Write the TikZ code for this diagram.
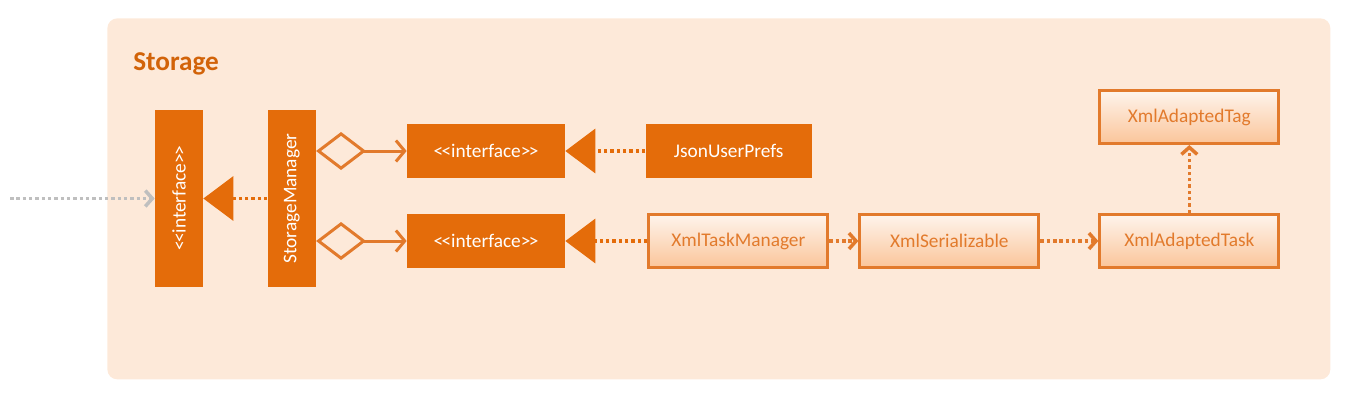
\documentclass[tikz,border=0pt]{standalone}
\usepackage{fontspec}
\setmainfont{Carlito}
\usetikzlibrary{positioning, arrows.meta, shapes}
\definecolor{umlOrange}{HTML}{E46C0A}
\definecolor{umlPeach}{HTML}{FDE9D9}
\definecolor{umlLine}{HTML}{E27A2C}
\definecolor{umlLight}{HTML}{FBC59A}
\colorlet{titleColor}{umlOrange!92!black}
\colorlet{extColor}{black!25}
\newcommand{\stereoName}[1]{<\kern-0.9pt<#1>\kern-0.9pt>}
\tikzstyle{pkg}=[rectangle, rounded corners=0.2cm, fill=umlPeach, inner sep=0]
\tikzstyle{pkgTitle}=[font=\fontsize{15.5}{18}\selectfont\bfseries, text=titleColor, inner sep=0]
\tikzstyle{cSolid}=[rectangle, fill=umlOrange, text=white, inner sep=0,
font=\fontsize{11}{13}\selectfont]
\tikzstyle{cSolidV}=[cSolid, minimum width=0.96cm, minimum height=3.54cm]
\tikzstyle{cSolidH}=[cSolid, minimum width=3.16cm, minimum height=1.08cm]
\tikzstyle{cClass}=[rectangle, draw=umlLine, line width=1.7pt, top color=umlPeach!50!white,
bottom color=umlLight, text=umlLine, minimum width=3.58cm, minimum height=1.06cm,
inner sep=0, font=\fontsize{11}{13}\selectfont]
\tikzstyle{depend}=[-{Straight Barb[length=4pt, width=9pt]}, line width=2pt,
dash pattern=on 2pt off 1.6pt, draw=umlLine]
\tikzstyle{realize}=[-{Triangle[length=0.6cm, width=0.88cm]}, line width=2pt,
dash pattern=on 2pt off 1.6pt, draw=umlOrange]
\tikzstyle{aggregate}=[{Diamond[open, length=1cm, width=0.76cm]}-{Straight Barb[length=5pt, width=12pt]},
line width=1.7pt, draw=umlLine]

\begin{document}
\begin{tikzpicture}[node distance=5mm]
    \useasboundingbox (0,0) rectangle (27,-8.16);
    \node (storage) [pkg, anchor=north west, minimum width=24.46cm, minimum height=7.22cm]
      at (2.14,-0.36) {};
    \node (title) [pkgTitle, anchor=west] at (2.66,-1.27) {Storage};
    % left column
    \node (storageIface) [cSolidV] at (3.58,-3.97) {\rotatebox{90}{\stereoName{interface}}};
    \node (storageMgr) [cSolidV, right=1.28cm of storageIface] {\rotatebox{90}{StorageManager}};
    % user prefs row
    \node (prefsIface) [cSolidH] at (9.72,-3.02) {\stereoName{interface}};
    \node (jsonPrefs) [cSolid, minimum width=3.32cm, minimum height=1.08cm,
      right=1.6cm of prefsIface] {JsonUserPrefs};
    % task manager row
    \node (taskIface) [cSolidH] at (9.72,-4.82) {\stereoName{interface}};
    \node (xmlTaskMgr) [cClass, right=1.64cm of taskIface] {XmlTaskManager};
    \node (xmlSerial) [cClass, right=0.58cm of xmlTaskMgr] {XmlSerializable};
    \node (xmlTask) [cClass, right=1.16cm of xmlSerial] {XmlAdaptedTask};
    \node (xmlTag) [cClass, above=1.36cm of xmlTask] {XmlAdaptedTag};
    \coordinate (outside) at (0.2,-3.97);

    \draw [depend, draw=extColor] (outside) -- (storageIface);
    \draw [realize] (storageMgr) -- (storageIface);
    \draw [aggregate] (storageMgr.east |- prefsIface) -- (prefsIface);
    \draw [aggregate] (storageMgr.east |- taskIface) -- (taskIface);
    \draw [realize] (jsonPrefs) -- (prefsIface);
    \draw [realize] (xmlTaskMgr) -- (taskIface);
    \draw [depend] (xmlTaskMgr) -- (xmlSerial);
    \draw [depend] (xmlSerial) -- (xmlTask);
    \draw [depend] (xmlTask) -- (xmlTag);
  \end{tikzpicture}
\end{document}
